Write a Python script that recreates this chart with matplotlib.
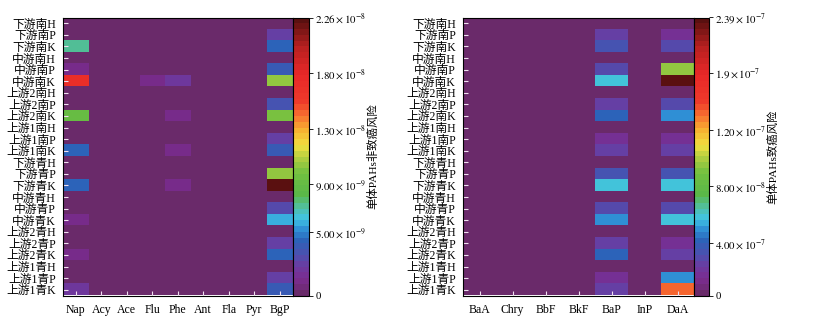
import numpy as np
import matplotlib
matplotlib.use('Agg')
import matplotlib.pyplot as plt
from matplotlib.colors import LinearSegmentedColormap

plt.rcParams['font.family'] = ['Liberation Serif', 'Noto Sans CJK SC']
plt.rcParams['mathtext.fontset'] = 'stix'

### data ###
rows = ['下游南H', '下游南P', '下游南K', '中游南H', '中游南P', '中游南K',
        '上游2南H', '上游2南P', '上游2南K', '上游1南H', '上游1南P', '上游1南K',
        '下游青H', '下游青P', '下游青K', '中游青H', '中游青P', '中游青K',
        '上游2青H', '上游2青P', '上游2青K', '上游1青H', '上游1青P', '上游1青K']

cols_nc = ['Nap', 'Acy', 'Ace', 'Flu', 'Phe', 'Ant', 'Fla', 'Pyr', 'BgP']
cols_c = ['BaA', 'Chry', 'BbF', 'BkF', 'BaP', 'InP', 'DaA']

# non-carcinogenic risk (x1e-9), only non-zero columns listed
nap = [0, 0, 7.5, 0, 1.4, 17.0, 0, 0, 9.0, 0, 0, 4.5,
       0, 0, 4.5, 0, 0, 1.4, 0, 0, 1.4, 0, 0, 2.3]
flu = [0, 0, 0, 0, 0, 1.4, 0, 0, 0, 0, 0, 0,
       0, 0, 0, 0, 0, 0, 0, 0, 0, 0, 0, 0]
phe = [0, 0, 0, 0, 0, 2.3, 0, 0, 1.4, 0, 0, 1.4,
       0, 0, 1.4, 0, 0, 0, 0, 0, 0, 0, 0, 0]
bgp = [0, 2.7, 4.7, 0, 4.1, 10.4, 0, 3.6, 10.2, 0, 2.7, 4.1,
       0, 10.8, 22.6, 0, 3.2, 6.1, 0, 2.7, 4.3, 0, 2.7, 4.1]

# carcinogenic risk (x1e-8)
bap = [0, 2.6, 3.8, 0, 3.3, 6.9, 0, 2.9, 4.5, 0, 1.7, 2.9,
       0, 3.6, 6.5, 0, 3.1, 5.5, 0, 2.9, 4.5, 0, 1.7, 2.9]
daa = [0, 1.7, 3.3, 0, 11.2, 23.9, 0, 3.3, 5.7, 0, 1.7, 2.9,
       0, 3.6, 6.5, 0, 3.3, 6.5, 0, 1.7, 2.6, 0, 5.5, 15.8]

vmax_nc = 2.26e-8
vmax_c = 2.39e-7
ticks_nc = ['0', r'$5.00\times10^{-9}$', r'$9.00\times10^{-9}$', r'$1.30\times10^{-8}$',
            r'$1.80\times10^{-8}$', r'$2.26\times10^{-8}$']
ticks_c = ['0', r'$4.00\times10^{-7}$', r'$8.00\times10^{-8}$', r'$1.20\times10^{-7}$',
           r'$1.9\times10^{-7}$', r'$2.39\times10^{-7}$']
tickpos_nc = [0, 0.23, 0.40, 0.60, 0.80, 1.0]
tickpos_c = [0, 0.19, 0.395, 0.595, 0.80, 1.0]

z = [0] * 24
nc = np.array([nap, z, z, flu, phe, z, z, z, bgp]).T * 1e-9
cc = np.array([z, z, z, z, bap, z, daa]).T * 1e-8

### colormap (stepped) ###
stops = [(0.00, '#6a2a6a'), (0.05, '#7a2c90'), (0.10, '#6a3ca2'), (0.14, '#4c50b0'),
         (0.19, '#2c62b8'), (0.23, '#2e8ad4'), (0.27, '#40c4e4'), (0.31, '#50c0a8'),
         (0.36, '#5ab848'), (0.44, '#72c040'), (0.50, '#b8d040'), (0.54, '#f0e040'),
         (0.60, '#f8b030'), (0.65, '#f87030'), (0.70, '#ee3a2a'), (0.80, '#e82828'),
         (0.90, '#b82020'), (1.00, '#5a1010')]
cmap = LinearSegmentedColormap.from_list('risk', stops, N=48)

fig = plt.figure(figsize=(8.15, 3.19), dpi=100)
W, H = 815., 319.


def panel(x0, x1, cx1, data, cols, vmax, tpos, tlab, label):
    ax = fig.add_axes([x0 / W, (H - 295.5) / H, (x1 - x0) / W, 278 / H])
    im = ax.imshow(data, cmap=cmap, vmin=0, vmax=vmax, aspect='auto', interpolation='nearest')
    ax.set_yticks(range(len(rows)))
    ax.set_yticklabels(rows, fontsize=8.5)
    ax.set_xticks(range(len(cols)))
    ax.set_xticklabels(cols, fontsize=8.5)
    ax.tick_params(direction='in', length=3.5, color='#f0e0f0', width=0.8, pad=5)
    ax.tick_params(axis='x', pad=6)
    for s in ax.spines.values():
        s.set_linewidth(0.8)
    cax = fig.add_axes([x1 / W, (H - 295.5) / H, (cx1 - x1) / W, 278 / H])
    cb = fig.colorbar(im, cax=cax)
    cb.set_ticks([p * vmax for p in tpos])
    cb.set_ticklabels(tlab)
    cax.tick_params(labelsize=7.8, length=3, width=0.6, pad=1.5)
    cb.outline.set_linewidth(0.8)
    cb.set_label(label, fontsize=8.2, labelpad=1)
    return ax


panel(63, 292.5, 309, nc, cols_nc, vmax_nc, tickpos_nc, ticks_nc, '单体PAHs非致癌风险')
panel(463, 694, 709, cc, cols_c, vmax_c, tickpos_c, ticks_c, '单体PAHs致癌风险')

plt.savefig('out.png', dpi=100)
